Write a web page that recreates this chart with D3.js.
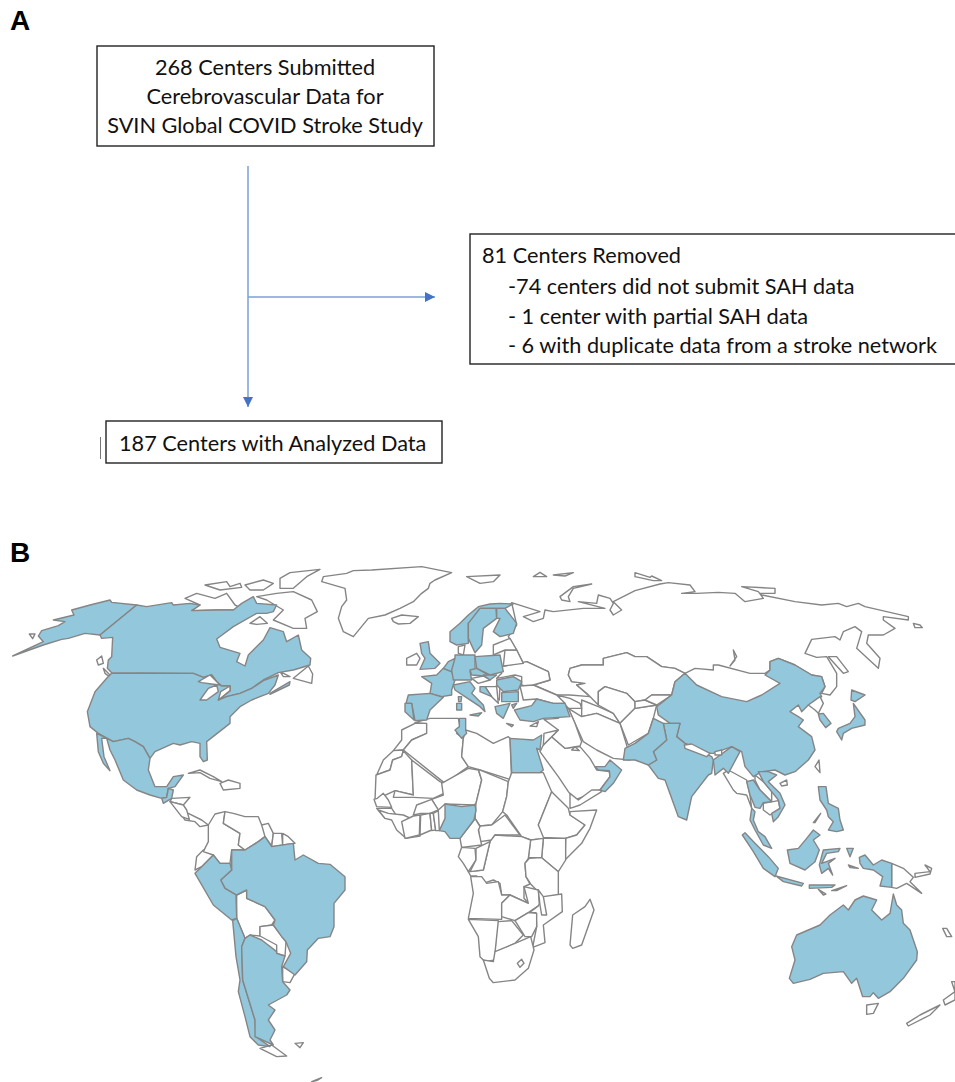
<!DOCTYPE html>
<html>
<head>
<meta charset="utf-8">
<script src="https://cdnjs.cloudflare.com/ajax/libs/d3/7.8.5/d3.min.js"></script>
<style>
  body { margin: 0; background: #fff; }
  svg { display: block; }
  .flow { font-family: Lato, "Open Sans", sans-serif; font-size: 21.7px; fill: #111; }
  .panel { font-family: "Liberation Sans", Arial, sans-serif; font-size: 28px; font-weight: bold; fill: #000; }
</style>
</head>
<body>
<svg id="chart"></svg>
<script>
let width = 955;
let height = 1082;

//flow chart text
const topBoxLines = ["268 Centers Submitted", "Cerebrovascular Data for", "SVIN Global COVID Stroke Study"];
const removedHead = "81 Centers Removed";
const removedLines = ["-74 centers did not submit SAH data", "- 1 center with partial SAH data", "- 6 with duplicate data from a stroke network"];
const analyzedLine = "187 Centers with Analyzed Data";

//map outlines. every sheet has its own grid (3 units = 1 px)
//north america
const alaska = [[38,288],[130,255],[185,238],[205,235],[255,220],[300,225],[410,135],[335,127],[330,120],[270,135],[215,150],[222,165],[160,180],[195,185],[175,197],[125,212],[115,228],[130,245]];
const canada = [[410,135],[440,140],[515,128],[520,135],[570,130],[600,135],[575,152],[650,150],[700,150],[725,130],[760,110],[770,130],[830,135],[820,155],[800,160],[770,160],[700,200],[650,237],[660,262],[720,280],[710,305],[735,318],[745,285],[790,240],[810,203],[850,215],[860,245],[895,225],[905,270],[932,295],[930,315],[880,330],[835,338],[790,360],[755,385],[720,400],[680,410],[655,420],[690,392],[690,378],[665,378],[650,365],[635,345],[610,352],[580,340],[335,338],[322,325],[325,300],[335,290],[338,232],[305,235],[300,225]];
const usa = [[335,340],[580,340],[610,352],[635,345],[650,365],[665,378],[690,378],[690,392],[655,420],[680,410],[720,400],[755,385],[790,362],[835,345],[825,375],[805,400],[755,420],[720,440],[690,470],[690,490],[620,545],[622,600],[610,605],[600,590],[600,550],[575,545],[540,555],[520,550],[465,575],[450,595],[430,560],[405,545],[385,535],[340,545],[295,520],[270,500],[262,455],[285,395],[320,355]];
const mexico = [[290,520],[340,545],[385,535],[405,545],[430,560],[450,595],[445,630],[465,680],[500,680],[520,650],[550,645],[525,680],[505,685],[500,712],[485,715],[450,705],[410,690],[370,660],[345,600],[330,570],[320,535],[305,535],[312,590],[330,632],[310,610],[295,575]];
const guatemala = [[505,685],[520,690],[515,715],[490,730],[485,715],[500,712]];
const novaScotia = [[810,400],[870,365],[868,375],[810,403]];
const naLakes = [
  [[595,365],[630,345],[660,375],[635,372],[605,368]],
  [[600,420],[625,385],[650,375],[655,395],[620,420]],
  [[655,420],[662,395],[690,378],[690,392]]
];
const naIslands = [
  [[555,115],[590,100],[645,115],[680,100],[705,135],[725,145],[700,150],[650,150],[575,152],[600,135]],
  [[615,75],[680,65],[690,80],[720,70],[725,82],[660,90]],
  [[735,75],[790,60],[820,70],[790,90],[750,90]],
  [[770,110],[830,100],[880,95],[935,120],[952,155],[915,175],[920,205],[880,205],[820,180],[850,150],[800,120]],
  [[840,55],[870,38],[960,28],[920,50],[880,85],[840,85]],
  [[750,190],[780,170],[802,190],[770,193]],
  [[88,222],[105,222],[98,236]],
  [[290,300],[305,288],[310,310],[295,315]],
  [[310,325],[330,345],[335,355],[315,340]],
  [[840,335],[870,350],[850,350]],
  [[880,355],[925,318],[938,342],[935,370]],
  [[565,640],[600,630],[640,650],[665,665],[630,655],[600,638]],
  [[660,670],[685,660],[720,670],[720,685],[670,690]]
];
const centralAmerica = [
  [[515,715],[570,712],[550,735],[510,725]],
  [[510,725],[550,735],[560,750],[568,778],[545,770]]
];
//europe, africa and near east
const greenland = [[100,32],[155,30],[305,20],[395,38],[345,60],[330,70],[325,85],[305,100],[280,125],[240,145],[195,165],[145,175],[100,230],[70,215],[55,175],[65,140],[80,120],[75,85],[5,65],[10,50],[80,40]];
const russia = [[575,128],[660,155],[610,170],[640,185],[670,175],[675,150],[700,155],[790,145],[855,145],[775,125],[830,130],[835,105],[870,115],[880,130],[870,150],[880,165],[905,150],[880,125],[945,92],[1020,72],[1045,68],[1110,75],[1125,95],[1085,100],[1130,100],[1195,97],[1245,100],[1275,125],[1330,115],[1315,95],[1265,80],[1365,85],[1365,100],[1320,100],[1325,105],[1425,125],[1505,135],[1555,130],[1580,140],[1615,130],[1635,140],[1765,170],[1765,180],[1690,170],[1690,180],[1725,205],[1690,225],[1645,225],[1640,250],[1680,295],[1675,325],[1610,265],[1625,215],[1605,200],[1570,215],[1560,240],[1545,230],[1475,238],[1455,280],[1490,292],[1520,290],[1550,340],[1550,380],[1530,405],[1505,400],[1515,380],[1505,350],[1475,345],[1425,315],[1375,295],[1350,305],[1350,330],[1335,340],[1290,340],[1195,315],[1180,315],[1180,330],[1125,325],[1095,340],[1065,325],[1025,320],[980,290],[945,290],[920,278],[850,295],[850,315],[785,315],[750,325],[745,345],[755,365],[795,370],[770,375],[810,410],[750,405],[710,405],[640,375],[690,360],[685,335],[620,305],[610,310],[590,270],[565,230],[590,195]];
const kazakhstan = [[750,325],[785,315],[850,315],[850,295],[920,278],[945,290],[980,290],[1025,320],[1065,325],[1095,340],[1065,365],[1055,405],[995,405],[975,420],[945,425],[920,400],[855,380],[835,395],[835,435],[800,400],[770,375],[795,370],[755,365],[745,345]];
const centralAsia = [
  [[785,420],[835,440],[880,460],[900,490],[830,460],[785,470]],
  [[835,395],[855,380],[920,400],[945,425],[945,445],[900,490],[880,460],[835,435]],
  [[745,445],[785,470],[830,460],[900,490],[920,555],[930,600],[880,595],[830,570],[790,545],[765,490]],
  [[900,490],[945,445],[1010,435],[1000,475],[985,520],[925,555]],
  [[945,425],[975,420],[1010,435],[945,445]],
  [[975,420],[995,405],[1055,405],[1010,435]],
  [[710,405],[750,415],[780,430],[785,445],[745,445]]
];
const euIslands = [
  [[215,175],[245,165],[295,170],[270,190],[235,192],[220,185]],
  [[440,50],[540,45],[520,65],[480,70]],
  [[640,50],[660,37],[680,50]],
  [[700,45],[760,38],[735,48]],
  [[720,110],[760,80],[815,72],[760,85],[745,110],[750,125],[725,120]],
  [[560,490],[580,495],[575,500]],
  [[945,38],[990,52],[995,48],[1025,62],[1000,62],[945,50]]
];
const turkey = [[583,450],[635,437],[650,417],[700,430],[735,430],[750,470],[670,475],[640,485],[600,480]];
const thrace = [[575,435],[590,430],[580,445]];
const tunisia = [[418,475],[437,475],[437,510],[440,520],[425,535],[405,510],[418,500]];
const egypt = [[570,535],[640,540],[665,525],[660,570],[650,565],[670,630],[660,638],[575,638]];
const oman = [[870,600],[905,630],[880,670],[855,695],[840,690],[870,650],[868,632],[835,630],[825,620],[855,620]];
const northAfrica = [
  [[285,490],[320,490],[320,520],[275,540],[250,570],[220,572],[245,540],[245,510]],
  [[220,572],[250,570],[245,590],[218,600],[210,630],[170,645],[190,600]],
  [[285,488],[330,475],[415,475],[420,500],[410,520],[430,535],[425,590],[445,620],[375,670],[250,570],[275,540],[320,520],[320,490]],
  [[437,510],[470,520],[520,550],[565,530],[570,535],[575,660],[560,655],[480,630],[445,620],[425,590],[430,535]],
  [[168,645],[210,630],[218,600],[245,590],[250,572],[275,600],[280,705],[225,692],[165,720]],
  [[275,600],[360,665],[375,672],[372,700],[340,715],[280,712],[220,712],[225,692],[280,705]],
  [[162,718],[172,715],[190,700],[205,720],[215,742],[170,740]],
  [[170,745],[215,745],[235,775],[195,775]]
];
const middleEast = [
  [[695,530],[735,565],[780,560],[810,595],[830,630],[868,635],[870,650],[840,690],[765,720],[745,695],[715,650],[660,575],[670,555]],
  [[672,478],[715,475],[745,445],[765,490],[785,545],[780,558],[735,565],[695,530],[715,510]],
  [[715,510],[695,530],[670,555],[672,520]],
  [[765,560],[778,572],[755,570]],
  [[630,498],[655,485],[650,500]]
];
const eastEurope = [
  [[545,320],[620,305],[685,335],[690,360],[640,375],[635,385],[605,375],[605,350],[585,345],[530,355],[545,340]],
  [[555,270],[590,270],[610,310],[550,318]],
  [[520,255],[570,235],[590,270],[555,270],[520,285]],
  [[510,385],[540,375],[538,420],[500,385]],
  [[600,378],[640,375],[710,405],[735,430],[700,430],[650,417],[610,420]]
];
//close view of europe
const norway = [[150,125],[180,100],[205,75],[235,50],[270,42],[300,40],[340,42],[315,55],[290,55],[240,55],[215,90],[205,100],[205,160],[170,165],[150,155]];
const sweden = [[205,100],[240,55],[288,55],[290,85],[250,115],[245,165],[225,188],[205,145]];
const finland = [[290,55],[315,55],[350,100],[340,130],[300,140],[280,125],[300,85],[290,85]];
const britain = [[60,160],[85,155],[90,190],[120,220],[105,235],[60,238],[75,205],[65,190]];
const france = [[65,260],[110,255],[130,235],[155,245],[165,270],[155,300],[155,315],[125,320],[90,310],[95,280]];
const benelux = [[130,235],[145,215],[165,205],[160,240],[155,245]];
const germany = [[165,205],[165,195],[225,195],[225,240],[210,245],[215,270],[160,270],[155,240]];
const poland = [[225,200],[300,195],[310,245],[270,255],[230,235]];
const czechia = [[210,240],[230,235],[265,255],[250,258],[215,255]];
const slovakia = [[250,255],[290,255],[270,270]];
const italy = [[160,285],[210,275],[225,295],[215,310],[250,345],[255,365],[240,350],[195,320],[165,300]];
const sicily = [[210,375],[245,368],[235,378]];
const sardinia = [[170,340],[185,340],[185,360],[170,360]];
const corsica = [[175,320],[185,320],[183,335],[176,335]];
const spain = [[25,315],[90,310],[130,322],[90,360],[80,390],[45,392],[35,340],[18,340]];
const portugal = [[15,340],[35,340],[42,390],[15,365]];
const romania = [[290,270],[340,260],[365,275],[355,300],[310,305],[290,285]];
const bulgaria = [[305,308],[355,305],[355,335],[305,335]];
const croatia = [[240,290],[255,290],[275,320],[240,305]];
const greece = [[285,350],[330,340],[310,385],[290,370]];
const euWhite = [
  [[20,205],[50,190],[60,205],[50,225],[20,225]],
  [[175,170],[195,165],[190,195],[175,190]],
  [[215,265],[250,258],[270,270],[235,280]],
  [[255,290],[290,290],[295,340],[275,320]]
];
//asia
const china = [[150,340],[185,375],[260,410],[335,425],[380,405],[435,370],[390,345],[405,330],[405,305],[430,295],[480,315],[530,345],[560,350],[570,380],[555,400],[560,410],[520,435],[500,455],[490,435],[465,455],[490,470],[505,480],[490,500],[530,530],[540,570],[520,600],[480,635],[450,645],[420,630],[380,635],[355,650],[330,620],[320,575],[290,560],[235,580],[225,580],[150,550],[125,530],[135,490],[105,490],[70,465],[65,440],[110,405],[120,365]];
const india = [[85,490],[105,490],[135,490],[125,530],[150,550],[230,590],[235,600],[230,640],[220,645],[170,710],[155,780],[130,770],[90,660],[70,655],[40,615],[65,600],[55,575],[95,540]];
const bangladesh = [[235,600],[290,560],[315,575],[280,640],[265,625],[240,645]];
const pakistan = [[-30,565],[0,550],[40,520],[55,475],[85,490],[95,540],[55,575],[65,600],[40,615],[0,600],[-35,600]];
const southKorea = [[550,462],[565,460],[588,490],[572,503],[555,480]];
const hokkaido = [[650,390],[690,405],[660,425],[648,420]];
const honshu = [[655,430],[690,480],[690,495],[650,505],[625,520],[620,540],[605,515],[610,505],[645,490],[660,470]];
const asiaWhite = [
  [[148,555],[170,552],[225,580],[215,590],[150,565]],
  [[240,575],[260,570],[260,585],[240,585]],
  [[520,435],[555,410],[565,430],[550,460],[540,450]],
  [[295,270],[305,290],[285,318],[300,300]],
  [[580,290],[605,290],[640,335],[625,340]],
  [[540,620],[552,600],[555,638]],
  [[835,190],[855,195],[862,203],[840,203]]
];
//south america
const brazil = [[305,120],[345,120],[385,95],[405,80],[425,110],[490,100],[495,150],[520,135],[565,160],[600,163],[645,200],[645,240],[612,280],[612,350],[600,380],[565,385],[532,420],[530,455],[495,495],[460,470],[482,430],[468,395],[455,380],[430,345],[435,330],[405,290],[350,265],[350,240],[320,255],[285,235],[272,210],[305,180]];
const peru = [[195,190],[215,170],[250,135],[270,160],[300,160],[305,180],[272,210],[285,235],[318,255],[320,325],[305,330],[250,285]];
const chile = [[308,332],[320,325],[345,385],[335,410],[338,510],[375,630],[378,680],[420,710],[385,705],[360,680],[345,620],[325,545],[330,510],[318,440]];
const argentina = [[345,385],[360,375],[395,390],[440,425],[440,430],[465,438],[455,470],[458,515],[480,540],[470,555],[415,585],[435,600],[415,630],[435,660],[420,690],[430,705],[375,680],[375,630],[338,510],[335,410]];
const saWhite = [
  [[320,255],[350,240],[350,265],[405,290],[435,330],[425,345],[390,350],[390,378],[360,375],[345,385],[320,325]],
  [[390,350],[430,345],[468,395],[465,438],[440,430],[440,405],[390,378]],
  [[458,470],[495,490],[480,518],[458,515]],
  [[495,700],[520,698],[510,713]],
  [[195,180],[200,140],[220,120],[250,135],[215,170]],
  [[235,45],[255,12],[285,5],[280,40],[330,70],[325,105],[345,120],[305,120],[300,160],[270,160],[250,135],[220,125],[235,95]],
  [[285,5],[310,10],[345,20],[385,20],[395,45],[415,50],[425,70],[405,80],[385,95],[345,120],[325,105],[330,70],[280,40]],
  [[395,45],[415,40],[430,70],[425,108],[405,80]],
  [[430,70],[455,70],[458,105],[425,110]],
  [[458,70],[475,80],[495,100],[458,105]],
  [[145,0],[165,30],[195,35],[210,50],[235,45],[215,30],[175,10]],
  [[390,715],[425,705],[470,738],[440,740]],
  [[745,0],[765,25],[785,30],[800,60],[828,85],[870,78],[875,40],[820,15],[775,10]],
  [[545,815],[575,803],[560,812]]
];
//africa
const nigeria = [[118,212],[135,175],[135,132],[185,140],[225,135],[228,150],[222,180],[180,235],[150,235],[135,215]];
const africaWhite = [
  [[125,70],[205,25],[235,30],[245,60],[228,130],[222,135],[135,132],[115,150],[95,118],[130,105]],
  [[40,165],[50,135],[95,118],[115,150],[90,160],[62,160]],
  [[235,28],[325,65],[320,110],[308,155],[275,195],[240,198],[225,175],[228,130],[245,60]],
  [[335,38],[430,38],[455,95],[415,195],[440,235],[392,240],[365,230],[320,165],[308,155],[320,110],[325,65]],
  [[240,198],[275,195],[315,165],[360,225],[285,225],[275,240],[240,245],[235,205]],
  [[455,95],[505,145],[510,165],[555,195],[530,225],[495,235],[430,232],[415,195]],
  [[510,155],[590,150],[570,205],[545,250],[495,300],[497,235],[530,225],[555,195],[510,165]],
  [[430,235],[497,235],[497,300],[475,335],[425,293]],
  [[392,240],[430,235],[425,293],[385,293]],
  [[285,225],[365,230],[392,240],[385,295],[375,310],[378,350],[390,372],[372,380],[372,415],[385,430],[330,405],[305,405],[300,370],[280,360],[250,370],[230,348],[212,348],[205,335],[250,330],[270,245]],
  [[388,295],[425,293],[475,335],[475,405],[430,412],[392,372],[378,350],[375,310]],
  [[212,350],[245,350],[260,370],[295,365],[305,405],[330,405],[305,430],[305,478],[205,475],[220,400]],
  [[305,430],[330,405],[385,430],[372,380],[415,390],[418,435],[385,458],[345,482],[305,470]],
  [[430,410],[485,402],[487,455],[430,495],[435,548],[398,562],[410,500],[408,458],[388,458],[415,438]],
  [[415,390],[430,410],[440,465],[425,465],[420,435]],
  [[345,482],[385,458],[410,460],[410,500],[395,530],[375,530]],
  [[295,485],[335,482],[370,525],[345,550],[285,578],[290,490]],
  [[205,478],[295,482],[285,578],[285,600],[255,605],[240,590],[235,530]],
  [[250,600],[280,605],[285,575],[345,550],[392,530],[402,570],[385,625],[345,660],[280,668],[268,655]],
  [[352,610],[365,598],[372,610],[360,622]],
  [[570,418],[582,450],[545,555],[518,565],[510,555],[518,465],[555,440]],
  [[225,150],[225,175],[240,200],[235,210],[245,255],[185,262],[180,235],[222,180]],
  [[175,290],[185,262],[225,265],[228,300],[205,335],[190,310]],
  [[228,265],[270,245],[250,330],[210,335],[228,300]],
  [[60,225],[62,165],[90,160],[95,210]],
  [[90,160],[100,160],[107,210],[95,212]],
  [[100,160],[115,152],[118,212],[107,212]],
  [[5,185],[40,168],[60,165],[58,225],[15,235]],
  [[510,100],[535,120],[575,90],[600,90],[605,95],[540,135],[510,145]]
];
//southeast asia and oceania
const thailand = [[140,35],[160,30],[180,60],[215,95],[190,98],[180,115],[165,112],[150,75]];
const peninsula = [[155,115],[165,125],[160,150],[175,185],[195,200],[215,235],[190,225],[165,180],[150,150]];
const vietnam = [[175,5],[205,5],[230,15],[205,35],[240,70],[255,105],[235,140],[220,155],[215,130],[240,115],[235,90],[215,65],[190,35]];
const sumatra = [[127,195],[135,188],[165,220],[205,260],[235,295],[225,320],[190,295],[160,245]];
const java = [[228,318],[310,340],[305,348],[250,335]];
const borneo = [[262,240],[295,235],[320,205],[340,180],[360,195],[340,210],[358,240],[345,275],[315,300],[270,280]];
const sulawesi = [[370,240],[420,235],[415,245],[380,250],[365,280],[405,265],[385,280],[398,315],[385,295],[365,310],[358,285]];
const philippines = [[355,50],[378,50],[385,100],[415,115],[420,150],[430,180],[410,185],[385,180],[400,155],[385,140],[380,120],[360,90]];
const papua = [[478,262],[495,255],[520,285],[545,270],[575,280],[575,352],[540,348],[548,320],[520,300],[490,295],[480,280]];
const australia = [[580,372],[590,405],[605,420],[610,460],[630,480],[652,545],[650,570],[610,625],[570,665],[535,685],[520,668],[510,680],[488,680],[470,625],[455,640],[430,605],[370,610],[330,628],[280,640],[268,625],[285,570],[275,530],[290,495],[360,465],[390,435],[430,405],[445,420],[465,390],[490,378],[530,390],[515,420],[545,450],[570,430]];
const smallIslands = [
  [[340,158],[362,130],[345,158]],
  [[328,345],[405,345],[395,352],[328,355]],
  [[395,362],[440,347],[410,362]],
  [[355,358],[378,372],[370,375]],
  [[440,235],[460,235],[450,260]],
  [[445,285],[475,295],[450,293]]
];
const oceaniaWhite = [
  [[70,10],[85,0],[140,30],[150,75],[155,115],[140,75],[110,70],[100,60]],
  [[165,15],[190,35],[215,65],[215,95],[180,60],[165,30]],
  [[190,100],[235,92],[240,115],[210,135],[190,120]],
  [[240,40],[260,30],[262,45],[245,48]],
  [[575,280],[610,295],[640,322],[630,335],[650,355],[665,370],[620,340],[590,355],[575,352]],
  [[645,310],[690,305],[675,285],[695,295],[690,312],[645,322]],
  [[500,705],[535,700],[520,730],[500,733]],
  [[620,760],[660,735],[720,705],[690,735],[625,768]],
  [[730,690],[765,665],[755,635],[765,635],[765,690],[735,705]],
  [[728,475],[740,475],[755,500],[740,500]]
];

const svg = d3.select("#chart")
  .attr("width", width)
  .attr("height", height);

//panel letters
svg.append("text").attr("class", "panel").attr("x", 10).attr("y", 30).text("A");
svg.append("text").attr("class", "panel").attr("x", 10).attr("y", 562).text("B");

//boxes
function addBox(x0, y0, x1, y1) {
  svg.append("rect")
    .attr("x", x0).attr("y", y0)
    .attr("width", x1 - x0).attr("height", y1 - y0)
    .attr("fill", "#fff")
    .attr("stroke", "#222")
    .attr("stroke-width", 1.4);
}
addBox(97, 46, 434, 146);
addBox(470, 234, 957, 364);
addBox(106, 421, 442, 463);
svg.append("line").attr("x1", 100.5).attr("x2", 100.5).attr("y1", 437).attr("y2", 459)
  .attr("stroke", "#777").attr("stroke-width", 1);

svg.selectAll(".top-line")
  .data(topBoxLines)
  .enter()
  .append("text")
  .attr("class", "flow top-line")
  .attr("text-anchor", "middle")
  .attr("x", 265)
  .attr("y", (d, i) => 75 + i * 29)
  .text((d) => d);

svg.append("text").attr("class", "flow").attr("x", 482).attr("y", 263).text(removedHead);
svg.selectAll(".removed-line")
  .data(removedLines)
  .enter()
  .append("text")
  .attr("class", "flow removed-line")
  .attr("x", 508)
  .attr("y", (d, i) => 294 + i * 29.7)
  .text((d) => d);
svg.append("text").attr("class", "flow").attr("x", 119).attr("y", 451).text(analyzedLine);

//arrows
svg.append("defs").append("marker")
  .attr("id", "head")
  .attr("viewBox", "0 0 10 10")
  .attr("refX", 10).attr("refY", 5)
  .attr("markerUnits", "userSpaceOnUse")
  .attr("markerWidth", 10).attr("markerHeight", 10)
  .attr("orient", "auto")
  .append("path")
  .attr("d", "M0,0L10,5L0,10Z")
  .attr("fill", "#4472c4");
svg.append("line").attr("x1", 248).attr("x2", 248).attr("y1", 166).attr("y2", 407)
  .attr("stroke", "#7c9fdc").attr("stroke-width", 1.5).attr("marker-end", "url(#head)");
svg.append("line").attr("x1", 248).attr("x2", 435).attr("y1", 297).attr("y2", 297)
  .attr("stroke", "#7c9fdc").attr("stroke-width", 1.5).attr("marker-end", "url(#head)");

//map
const landBlue = "#92c7dc";
const mapLine = "#858585";
const mapGroup = svg.append("g").attr("id", "map");

function drawSheet(originX, originY, rings, fill) {
  const xScale = d3.scaleLinear().domain([0, 3]).range([originX, originX + 1]);
  const yScale = d3.scaleLinear().domain([0, 3]).range([originY, originY + 1]);
  const ringPath = d3.line()
    .x((d) => xScale(d[0]))
    .y((d) => yScale(d[1]))
    .curve(d3.curveLinearClosed);
  mapGroup.append("g")
    .selectAll("path")
    .data(rings)
    .enter()
    .append("path")
    .attr("d", ringPath)
    .attr("fill", fill)
    .attr("stroke", mapLine)
    .attr("stroke-width", 1.4)
    .attr("stroke-linejoin", "round");
}

//white countries first, then the countries with centers on top
drawSheet(320, 560, [greenland, russia, kazakhstan].concat(centralAsia, euIslands, northAfrica, middleEast, eastEurope), "#fff");
drawSheet(130, 810, saWhite, "#fff");
drawSheet(400, 760, africaWhite, "#fff");
drawSheet(700, 770, oceaniaWhite, "#fff");
drawSheet(0, 560, naIslands.concat(centralAmerica), "#fff");
drawSheet(400, 590, euWhite, "#fff");

drawSheet(0, 560, [alaska, canada, usa, mexico, guatemala, novaScotia], landBlue);
drawSheet(0, 560, naLakes, "#fff");
drawSheet(320, 560, [turkey, thrace, tunisia, egypt, oman], landBlue);
drawSheet(400, 590, [norway, sweden, finland, britain, france, benelux, germany, poland, czechia, slovakia, italy, sicily, sardinia, corsica, spain, portugal, romania, bulgaria, croatia, greece], landBlue);
drawSheet(635, 560, [china, india, bangladesh, pakistan, southKorea, hokkaido, honshu], landBlue);
drawSheet(635, 560, asiaWhite, "#fff");
drawSheet(130, 810, [brazil, peru, chile, argentina], landBlue);
drawSheet(400, 760, [nigeria], landBlue);
drawSheet(700, 770, [thailand, peninsula, vietnam, sumatra, java, borneo, sulawesi, philippines, papua, australia].concat(smallIslands), landBlue);
</script>
</body>
</html>
